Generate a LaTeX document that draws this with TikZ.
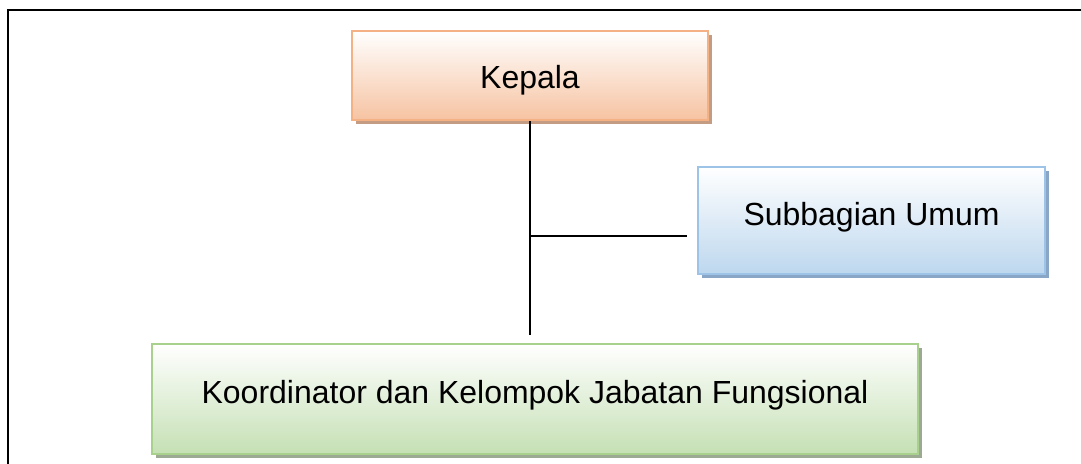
\documentclass[tikz,border=0pt]{standalone}
\usepackage{fontspec}
\setmainfont{Liberation Sans}
\usetikzlibrary{positioning,shadows}
\definecolor{kepalaline}{HTML}{F4B183}
\definecolor{kepalafill}{HTML}{F6C3A2}
\definecolor{kepalashade}{HTML}{C49C84}
\definecolor{umumline}{HTML}{9DC3E6}
\definecolor{umumfill}{HTML}{BDD7EE}
\definecolor{umumshade}{HTML}{8AA6C6}
\definecolor{jfline}{HTML}{A9D18E}
\definecolor{jffill}{HTML}{C5E0B4}
\definecolor{jfshade}{HTML}{9CAA94}

\begin{document}
\begin{tikzpicture}[
    unitbox/.style={draw, line width=1.5pt, inner sep=0pt, text height=0.46cm, text depth=0.26cm,
      font=\fontsize{18.2}{21}\selectfont},
    kepalabox/.style={unitbox, draw=kepalaline, top color=white, bottom color=kepalafill,
      drop shadow={shadow xshift=0.08cm, shadow yshift=-0.08cm, fill=kepalashade, opacity=1}},
    umumbox/.style={unitbox, draw=umumline, top color=white, bottom color=umumfill,
      drop shadow={shadow xshift=0.08cm, shadow yshift=-0.08cm, fill=umumshade, opacity=1}},
    jfbox/.style={unitbox, draw=jfline, top color=white, bottom color=jffill,
      drop shadow={shadow xshift=0.08cm, shadow yshift=-0.08cm, fill=jfshade, opacity=1}},
    link/.style={line width=1.2pt}
  ]
  \useasboundingbox (0,0) rectangle (21.62,9.28);
  \clip (0,0) rectangle (21.62,9.28);
  \draw[line width=1.2pt] (0.16,-1) |- (23,9.08);

  \node[kepalabox, minimum width=7.12cm, minimum height=1.78cm, text height=0.54cm, text depth=0cm]
    (kepala) at (10.6,7.77) {Kepala};
  \node[umumbox, minimum width=6.94cm, minimum height=2.14cm] (umum) at (17.43,4.87) {Subbagian Umum};
  \node[jfbox, minimum width=15.32cm, minimum height=2.2cm] (jf) at (10.7,1.3)
    {Koordinator dan Kelompok Jabatan Fungsional};

  \coordinate (stem) at ([yshift=0.16cm]kepala.south |- jf.north);
  \coordinate (branch) at ([xshift=-0.2cm]umum.west |- 0,4.56);
  \draw[link] (kepala.south) -- (stem);
  \draw[link] (kepala.south |- branch) -- (branch);
\end{tikzpicture}
\end{document}
